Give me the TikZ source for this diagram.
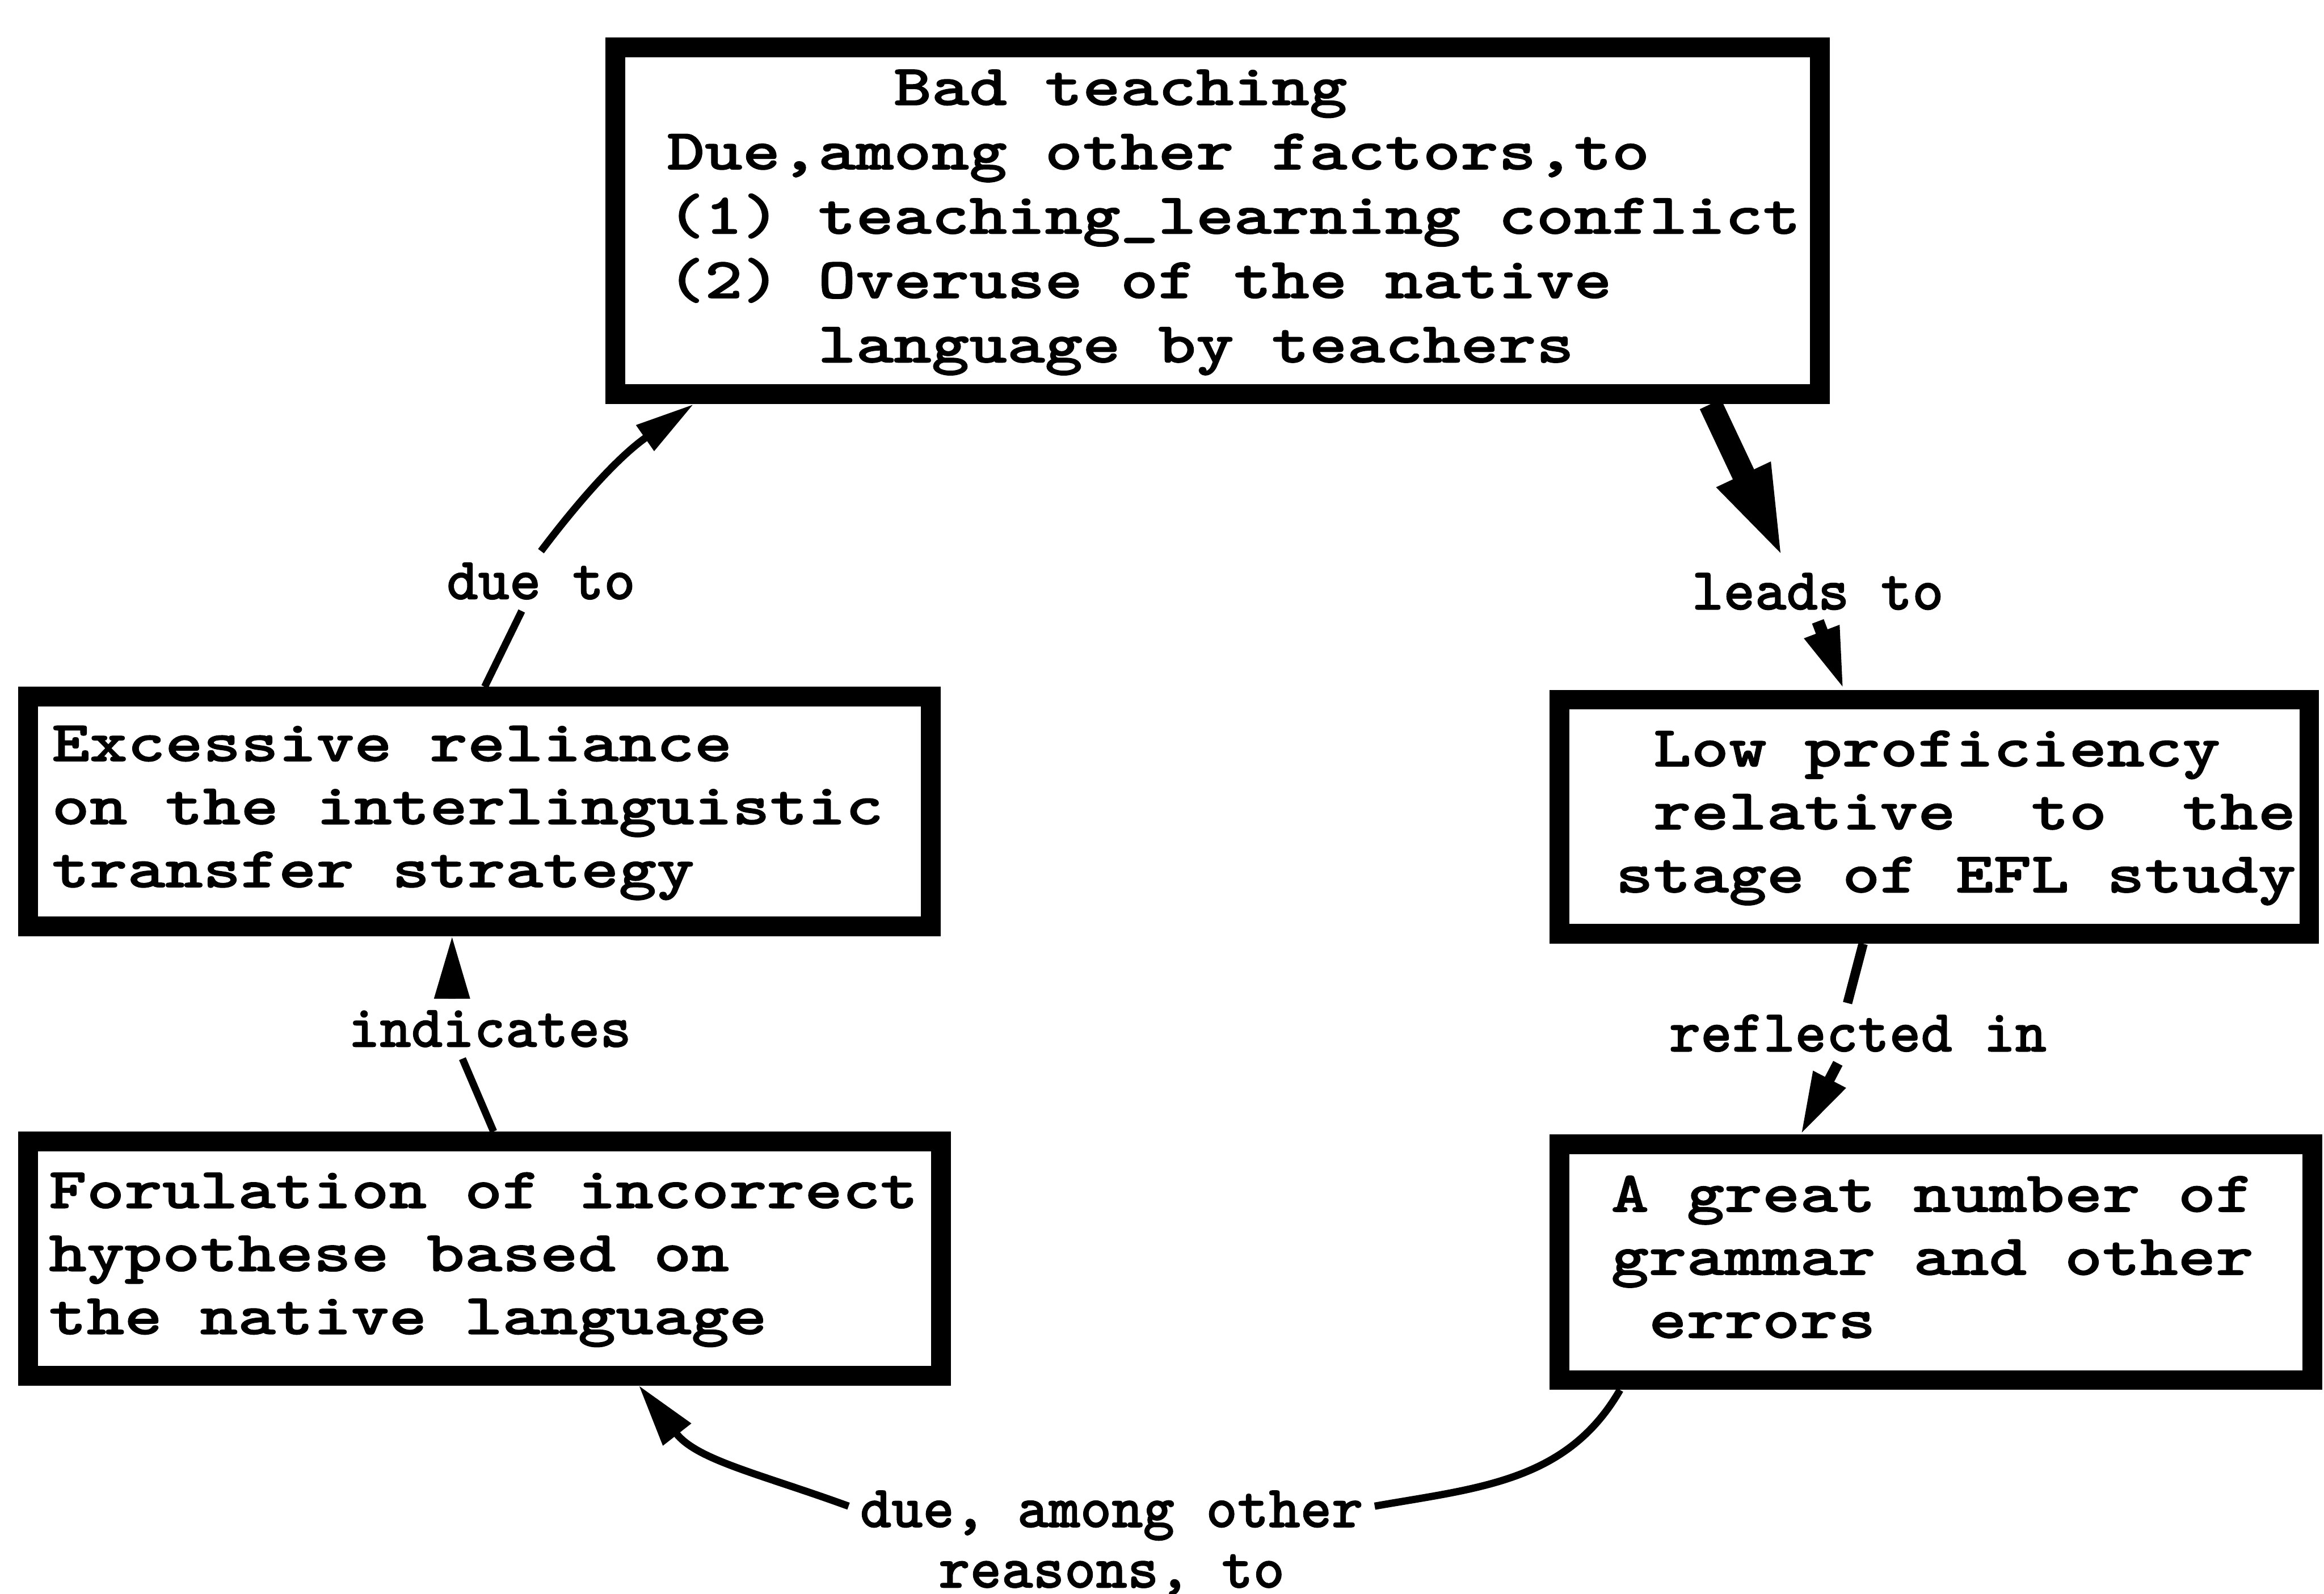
\documentclass[tikz,border=0pt]{standalone}
\usepackage{fontspec}
\usetikzlibrary{arrows.meta}
\newfontfamily\boxfont{lmmonolt10-bold}[Extension=.otf,FakeStretch=1.245,FakeBold=1.2]
\newfontfamily\labelfont{lmmonolt10-bold}[Extension=.otf,FakeBold=1]
% monospaced word space: as wide as one character
\newcommand{\fixspace}{\spaceskip=\fontcharwd\font`0\relax\xspaceskip=\spaceskip}
\newcommand{\boxtext}{\fontsize{11.1}{12.1}\boxfont}
\newcommand{\labeltext}{\fontsize{11.5}{11.6}\labelfont}

\begin{document}
\begin{tikzpicture}[
    box/.style={draw, line width=3.8pt, align=left, inner ysep=0pt, font=\boxtext,
      execute at begin node=\fixspace\strut, execute at end node=\strut},
    lbl/.style={font=\labeltext, inner sep=2pt, execute at begin node=\fixspace},
    link/.style={line width=1.4pt},
    head/.style={-{Triangle[length=0.42cm,width=0.23cm]}}]
  \fill [white] (0,0) rectangle (15.68,-10.75);
  \useasboundingbox (0,0) rectangle (15.68,-10.75);

  % boxes
  \node [box, font={\fontsize{11.1}{12.35}\boxfont}, text width=7.43cm, inner xsep=0.35cm,
    minimum height=2.34cm] (top) at (8.215,-1.49)
    {\hphantom{000000}Bad teaching\\
     Due,among other factors,to\\
     \mbox{(1) teaching\_learning conflict}\\
     (2) Overuse of the native\\
     \hphantom{0000}language by teachers};
  \node [box, text width=5.77cm, inner xsep=0.16cm, minimum height=1.55cm] (lmid) at (3.235,-5.475)
    {Excessive reliance\\
     on the interlinguistic\\
     transfer strategy};
  \node [box, text width=5.88cm, inner xsep=0.14cm, minimum height=1.58cm] (lbot) at (3.27,-8.49)
    {\mbox{Forulation of incorrect}\\
     hypothese based on\\
     the native language};
  \node [box, text width=4.30cm, inner xsep=0.38cm, minimum height=1.58cm] (rmid) at (13.05,-5.51)
    {\hphantom{0}Low proficiency\\
     \mbox{\hphantom{0}relative\hphantom{00}to\hphantom{00}the}\\
     \mbox{stage of EFL study}};
  \node [box, text width=4.38cm, inner xsep=0.35cm, minimum height=1.59cm] (rbot) at (13.06,-8.515)
    {\mbox{A great number of}\\
     \mbox{grammar and other}\\
     \hphantom{0}errors};

  % labels
  \node [lbl] (dueto) at (3.65,-3.92) {due to};
  \node [lbl] (leadsto) at (12.265,-3.99) {leads to};
  \node [lbl] (reflin) at (12.535,-6.97) {reflected in};
  \node [lbl] (indic) at (3.305,-6.94) {indicates};
  \node [lbl, align=center] (among) at (7.50,-10.41) {due, among other\\reasons, to};

  % due to
  \draw [link] ([xshift=0.035cm]lmid.north) -- ([xshift=-0.13cm]dueto.south);
  \draw [link, -{Triangle[length=0.4cm,width=0.2cm]}] (dueto.north) to [bend left=9] ([xshift=-3.535cm]top.south);
  % leads to
  \draw [line width=4.5pt, -{Triangle[length=0.65cm,width=0.35cm]}] ([xshift=3.325cm]top.south) -- ([xshift=-0.225cm]leadsto.north);
  \draw [line width=2.4pt, head] (leadsto.south) -- ([xshift=-0.61cm]rmid.north);
  % reflected in
  \draw [line width=1.8pt] ([xshift=-0.48cm]rmid.south) -- ([xshift=-0.07cm]reflin.north);
  \draw [line width=2pt, head] ([xshift=-0.135cm]reflin.south) -- ([xshift=-0.91cm]rbot.north);
  % indicates
  \draw [link] ([xshift=0.06cm]lbot.north) -- ([xshift=-0.185cm]indic.south);
  \draw [link, head] ([xshift=-0.255cm]indic.north) -- ([xshift=-0.185cm]lmid.south);
  % due, among other reasons, to
  \draw [link] ([xshift=-2.13cm]rbot.south) to [out=240,in=10] (among.8);
  \draw [link, head] (among.172) to [out=160,in=-52] ([xshift=1.04cm]lbot.south);
\end{tikzpicture}
\end{document}
